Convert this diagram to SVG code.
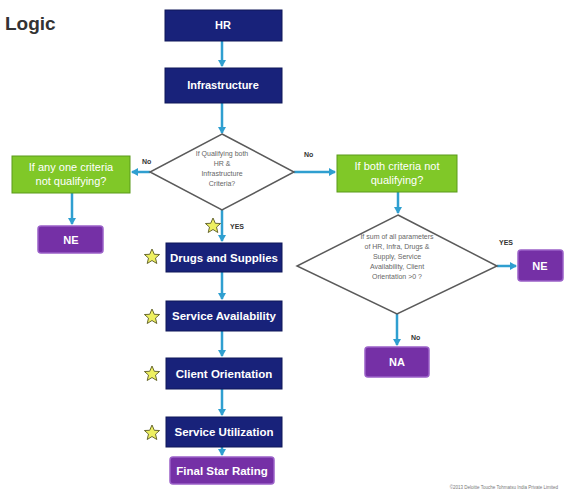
<svg xmlns="http://www.w3.org/2000/svg" width="566" height="495" viewBox="0 0 566 495">
<defs>
<marker id="arr" markerWidth="8" markerHeight="8" refX="6" refY="4" orient="auto" markerUnits="userSpaceOnUse">
<path d="M0,0 L7,4 L0,8 z" fill="#2f9fd0"/>
</marker>
<path id="star" d="M0,-8 L2.3,-2.7 L7.6,-2.5 L3.5,1.1 L4.8,6.5 L0,3.5 L-4.8,6.5 L-3.5,1.1 L-7.6,-2.5 L-2.3,-2.7 z"/>
</defs>
<style>
.nv{fill:#18227a;stroke:#0f1758;stroke-width:1}
.gr{fill:#80c828;stroke:#5a9a1a;stroke-width:1}
.pu{fill:#7530a6;stroke:#9a60c8;stroke-width:1.5}
.dm{fill:#ffffff;stroke:#5a5a5a;stroke-width:1.5}
.wt{fill:#ffffff;font-family:"Liberation Sans",Arial,sans-serif;font-weight:bold;text-anchor:middle}
.gt{fill:#ffffff;font-family:"Liberation Sans",Arial,sans-serif;font-size:11px;text-anchor:middle}
.dt{fill:#666;font-family:"Liberation Sans",Arial,sans-serif;font-size:7px;text-anchor:middle}
.lb{fill:#333;font-family:"Liberation Sans",Arial,sans-serif;font-size:7px;font-weight:bold}
.cn{stroke:#2f9fd0;stroke-width:2.5;fill:none}
.st{fill:#eef060;stroke:#6a6a30;stroke-width:1}
</style>
<rect width="566" height="495" fill="#ffffff"/>
<text x="5" y="30" font-family="Liberation Sans,Arial,sans-serif" font-size="19" font-weight="bold" fill="#333">Logic</text>

<g id="connectors">
<line class="cn" x1="222" y1="41" x2="222" y2="66" marker-end="url(#arr)"/>
<line class="cn" x1="222" y1="103" x2="222" y2="133" marker-end="url(#arr)"/>
<line class="cn" x1="150" y1="172" x2="132" y2="172" marker-end="url(#arr)"/>
<line class="cn" x1="294" y1="172" x2="335" y2="172" marker-end="url(#arr)"/>
<line class="cn" x1="72" y1="193" x2="72" y2="224" marker-end="url(#arr)"/>
<line class="cn" x1="222" y1="210" x2="222" y2="241" marker-end="url(#arr)"/>
<line class="cn" x1="222" y1="272" x2="222" y2="299" marker-end="url(#arr)"/>
<line class="cn" x1="222" y1="331" x2="222" y2="356" marker-end="url(#arr)"/>
<line class="cn" x1="222" y1="389" x2="222" y2="415" marker-end="url(#arr)"/>
<line class="cn" x1="222" y1="447" x2="222" y2="455" marker-end="url(#arr)"/>
<line class="cn" x1="398" y1="192" x2="398" y2="213" marker-end="url(#arr)"/>
<line class="cn" x1="497" y1="266" x2="516" y2="266" marker-end="url(#arr)"/>
<line class="cn" x1="397" y1="314" x2="397" y2="345" marker-end="url(#arr)"/>
<text class="lb" x="142" y="164">No</text>
<text class="lb" x="304" y="157">No</text>
<text class="lb" x="230" y="229">YES</text>
<text class="lb" x="499" y="245">YES</text>
<text class="lb" x="411" y="340">No</text>
</g>

<g id="hr"><rect class="nv" x="165" y="10" width="117" height="31"/><text class="wt" x="223" y="29" font-size="11">HR</text></g>
<g id="infra"><rect class="nv" x="165" y="68" width="117" height="35"/><text class="wt" x="223" y="89" font-size="11">Infrastructure</text></g>

<g id="d1"><polygon class="dm" points="222,134 294,172 222,210 150,172"/>
<text class="dt" x="222" y="156">If Qualifying both</text>
<text class="dt" x="222" y="166">HR &amp;</text>
<text class="dt" x="222" y="176">Infrastructure</text>
<text class="dt" x="222" y="186">Criteria?</text></g>

<g id="g-left"><rect class="gr" x="12" y="156" width="118" height="37"/>
<text class="gt" x="71" y="171">If any one criteria</text>
<text class="gt" x="71" y="185">not qualifying?</text></g>

<g id="ne-left"><rect class="pu" x="38" y="226" width="65" height="27" rx="3"/><text class="wt" x="71" y="244" font-size="11">NE</text></g>

<g id="g-right"><rect class="gr" x="337" y="155" width="120" height="37"/>
<text class="gt" x="397" y="170">If both criteria not</text>
<text class="gt" x="397" y="184">qualifying?</text></g>

<g id="d2"><polygon class="dm" points="398,215 497,266 397,314 297,266"/>
<text class="dt" x="397" y="239">If sum of all parameters</text>
<text class="dt" x="397" y="249">of HR, Infra, Drugs &amp;</text>
<text class="dt" x="397" y="259">Supply, Service</text>
<text class="dt" x="397" y="269">Availability, Client</text>
<text class="dt" x="397" y="279">Orientation &gt;0 ?</text></g>

<g id="ne-right"><rect class="pu" x="518" y="250" width="45" height="31" rx="3"/><text class="wt" x="540" y="270" font-size="11">NE</text></g>
<g id="na"><rect class="pu" x="365" y="347" width="64" height="30" rx="3"/><text class="wt" x="397" y="366" font-size="11">NA</text></g>

<g id="drugs"><rect class="nv" x="166" y="243" width="116" height="29"/><text class="wt" x="224" y="262" font-size="11.5">Drugs and Supplies</text><use href="#star" class="st" x="152" y="257"/></g>
<g id="sa"><rect class="nv" x="166" y="301" width="116" height="30"/><text class="wt" x="224" y="320" font-size="11.5">Service Availability</text><use href="#star" class="st" x="152" y="317"/></g>
<g id="co"><rect class="nv" x="166" y="358" width="116" height="31"/><text class="wt" x="224" y="378" font-size="11.5">Client Orientation</text><use href="#star" class="st" x="152" y="374"/></g>
<g id="su"><rect class="nv" x="166" y="417" width="116" height="30"/><text class="wt" x="224" y="436" font-size="11.5">Service Utilization</text><use href="#star" class="st" x="152" y="433"/></g>
<use href="#star" class="st" x="213" y="226"/>
<g id="fsr"><rect class="pu" x="170" y="457" width="104" height="27" rx="3"/><text class="wt" x="222" y="475" font-size="11.5">Final Star Rating</text></g>

<text x="558" y="489" font-family="Liberation Sans,Arial,sans-serif" font-size="4.5" fill="#777" text-anchor="end">©2013 Deloitte Touche Tohmatsu India Private Limited</text>
</svg>
